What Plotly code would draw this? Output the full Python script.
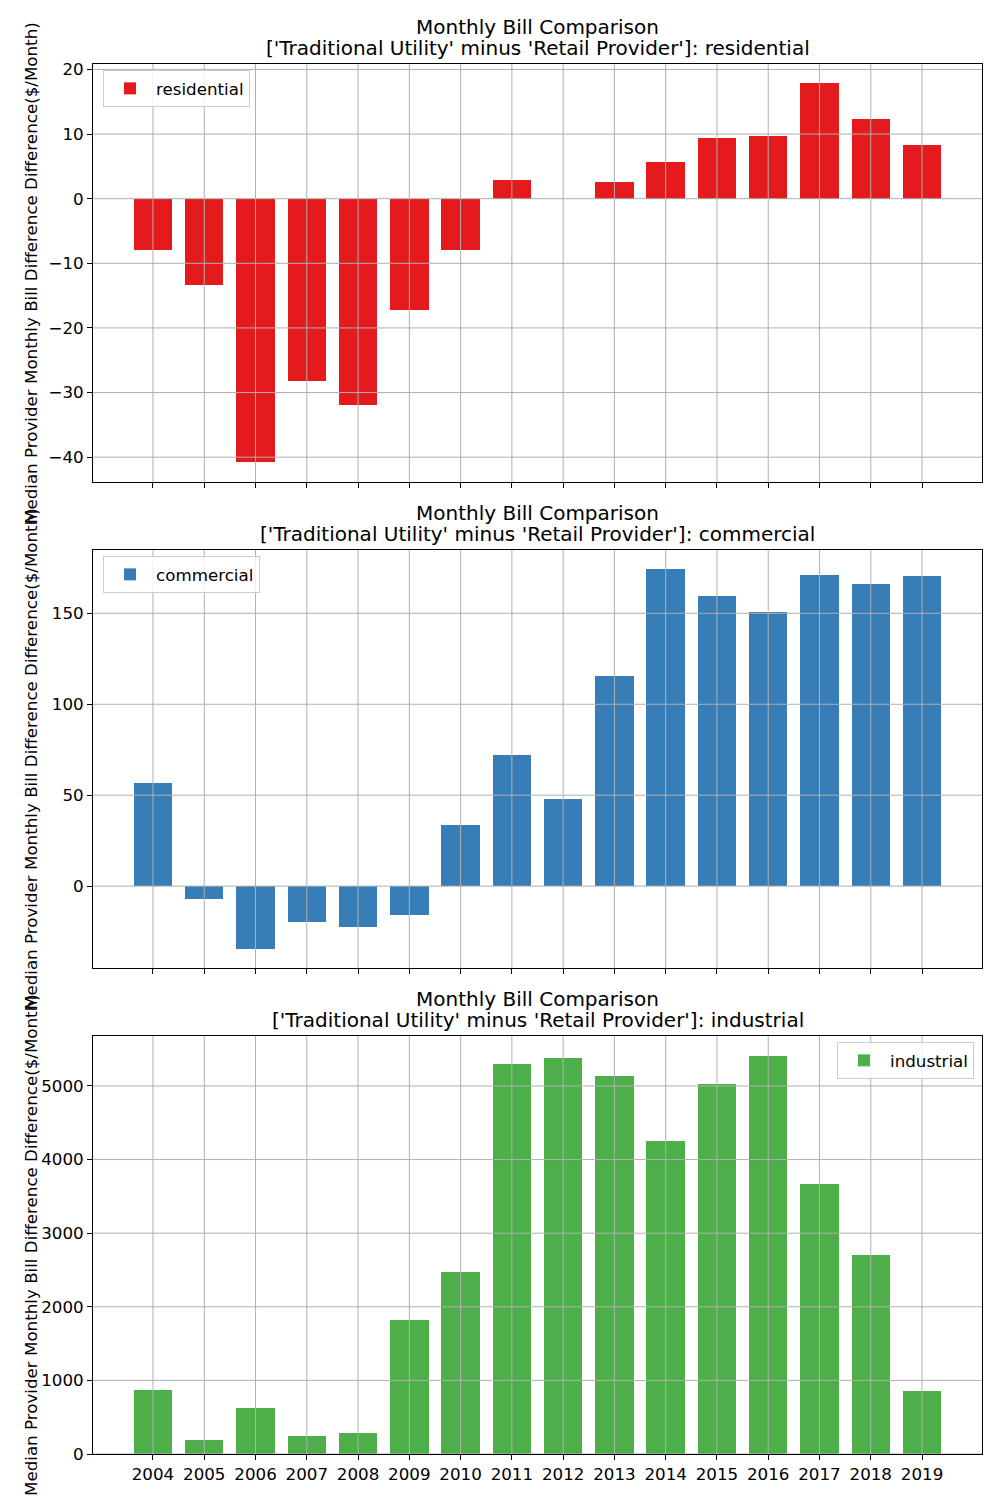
import plotly.graph_objects as go

years = ["2004", "2005", "2006", "2007", "2008", "2009", "2010", "2011",
         "2012", "2013", "2014", "2015", "2016", "2017", "2018", "2019"]

residential = [-8.0, -13.4, -40.8, -28.2, -31.9, -17.2, -8.0, 2.9,
               None, 2.6, 5.7, 9.4, 9.7, 17.9, 12.3, 8.3]
commercial = [56.6, -7.0, -34.5, -19.6, -22.4, -15.8, 33.5, 72.0,
              47.8, 115.5, 174.3, 159.5, 150.7, 171.0, 166.1, 170.5]
industrial = [870, 190, 625, 245, 285, 1821, 2473, 5299,
              5380, 5136, 4253, 5027, 5408, 3668, 2704, 856]

sectors = ["residential", "commercial", "industrial"]
series = [residential, commercial, industrial]
colors = ["#e41a1c", "#377eb8", "#4daf4a"]
yticks = [[-40, -30, -20, -10, 0, 10, 20], [0, 50, 100, 150],
          [0, 1000, 2000, 3000, 4000, 5000]]
yranges = [[-43.84, 20.84], [-45.0, 184.8], [0, 5679]]

title_line1 = "Monthly Bill Comparison"
title_line2 = "['Traditional Utility' minus 'Retail Provider']: {}"
ylabel = "Median Provider Monthly Bill Difference Difference($/Month)"

W, H = 1000, 1500
ML, MR = 93, 18
panel_px = [(64, 482), (550, 968), (1036, 1454)]
legend_pos = [
    dict(x=(103 - ML) / (W - ML - MR), xanchor="left", y=1 - 70 / H),
    dict(x=(103 - ML) / (W - ML - MR), xanchor="left", y=1 - 556 / H),
    dict(x=(974 - ML) / (W - ML - MR), xanchor="right", y=1 - 1042 / H),
]

FONT = "DejaVu Sans"
fig = go.Figure()
shapes = []
annotations = []
layout = {}

for i, (name, vals, col) in enumerate(zip(sectors, series, colors)):
    s = "" if i == 0 else str(i + 1)
    leg = "legend" if i == 0 else f"legend{i + 1}"
    fig.add_trace(go.Bar(
        x=years, y=vals, name=name, marker=dict(color=col, line=dict(width=0)),
        width=0.75, xaxis=f"x{s}", yaxis=f"y{s}", legend=leg,
    ))
    top, bot = panel_px[i]
    layout[f"xaxis{s}"] = dict(
        domain=[0, 1], anchor=f"y{s}", type="category", automargin=False,
        range=[-1.17, len(years) - 1 + 1.17],
        showgrid=False, zeroline=False,
        showline=True, linecolor="black", linewidth=1, mirror=True,
        ticks="outside", ticklen=5, tickwidth=1, tickcolor="black",
        showticklabels=(i == 2),
        tickfont=dict(family=FONT, size=16.7, color="black"),
    )
    layout[f"yaxis{s}"] = dict(
        domain=[1 - bot / H, 1 - top / H], anchor=f"x{s}", automargin=False,
        range=yranges[i], tickvals=yticks[i],
        showgrid=False, zeroline=False,
        showline=True, linecolor="black", linewidth=1, mirror=True,
        ticks="outside", ticklen=5, tickwidth=1, tickcolor="black",
        tickfont=dict(family=FONT, size=16.7, color="black"),
    )
    layout[leg] = dict(
        **legend_pos[i], yanchor="top", xref="paper", yref="paper",
        itemwidth=42,
        bgcolor="rgba(255,255,255,0.8)", bordercolor="#cccccc", borderwidth=1,
        font=dict(family=FONT, size=16.7, color="black"),
    )
    for j, yr in enumerate(years):
        shapes.append(dict(type="line", xref=f"x{s}", yref=f"y{s} domain",
                           x0=j, x1=j, y0=0, y1=1, layer="above",
                           line=dict(color="#b0b0b0", width=1)))
    for t in yticks[i]:
        shapes.append(dict(type="line", xref=f"x{s} domain", yref=f"y{s}",
                           x0=0, x1=1, y0=t, y1=t, layer="above",
                           line=dict(color="#b0b0b0", width=1)))
    ytop = 1 - top / H
    annotations.append(dict(text=title_line1, xref="paper", yref="paper",
                            x=0.5, y=ytop, xanchor="center", yanchor="middle",
                            yshift=37, showarrow=False,
                            font=dict(family=FONT, size=20, color="black")))
    annotations.append(dict(text=title_line2.format(name), xref="paper", yref="paper",
                            x=0.5, y=ytop, xanchor="center", yanchor="middle",
                            yshift=16, showarrow=False,
                            font=dict(family=FONT, size=20, color="black")))
    annotations.append(dict(text=ylabel, xref="paper", yref="paper",
                            x=(31 - ML) / (W - ML - MR), y=1 - (top + bot) / 2 / H,
                            xanchor="center", yanchor="middle", textangle=-90,
                            showarrow=False,
                            font=dict(family=FONT, size=16.7, color="black")))

fig.update_layout(
    template="none",
    width=W, height=H,
    margin=dict(l=ML, r=MR, t=0, b=0, pad=0, autoexpand=False),
    paper_bgcolor="white", plot_bgcolor="white",
    shapes=shapes, annotations=annotations, showlegend=True,
    bargap=0, **layout,
)
fig.write_html("out.html", config={"displayModeBar": False},
               post_script="document.body.style.margin='0';document.body.style.overflow='hidden';")
